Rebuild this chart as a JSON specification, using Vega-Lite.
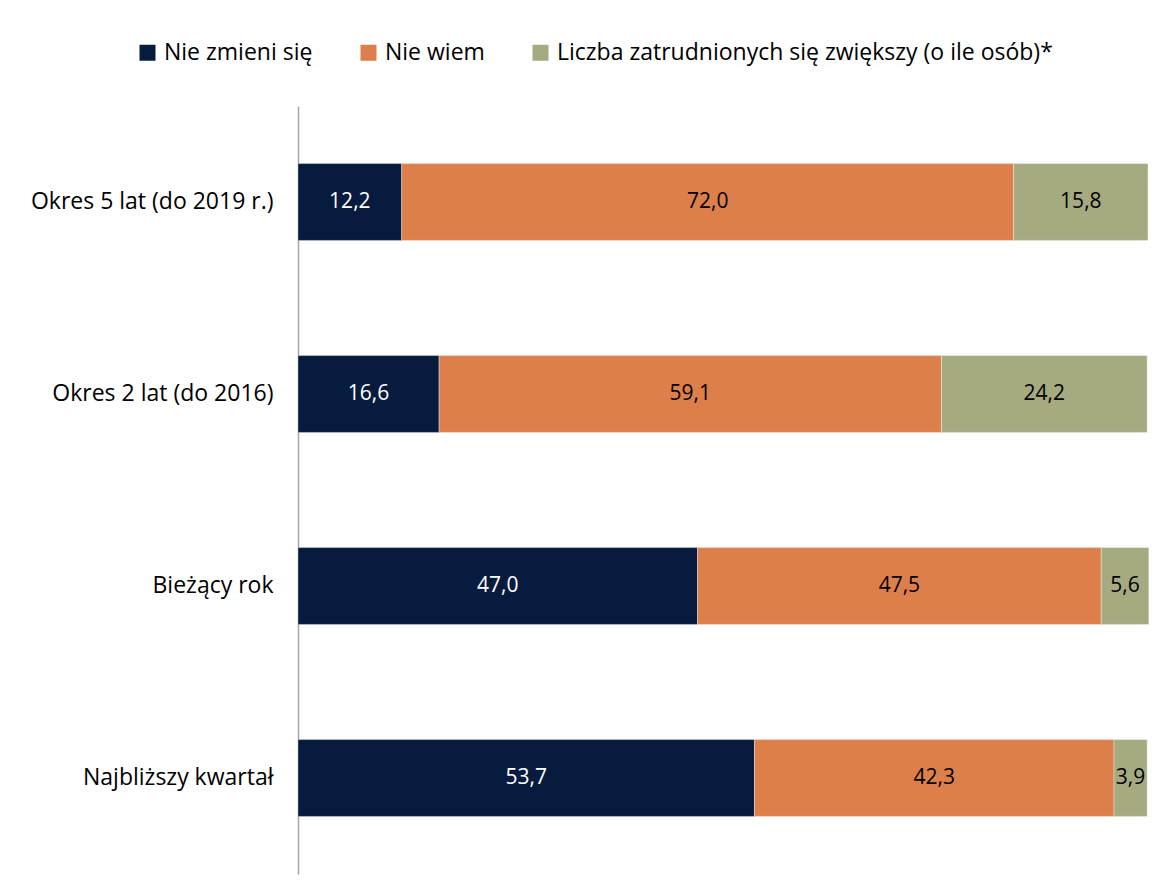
{
  "$schema": "https://vega.github.io/schema/vega-lite/v6.json",
  "autosize": "none",
  "width": 850,
  "height": 768,
  "padding": {"left": 298, "top": 106, "right": 20, "bottom": 22},
  "background": "white",
  "config": {
    "font": "Open Sans",
    "view": {"stroke": null},
    "locale": {"number": {"decimal": ",", "thousands": " ", "grouping": [3], "currency": ["", " zł"]}}
  },
  "data": {"values": [
    {"okres": "Okres 5 lat (do 2019 r.)", "kat": "Nie zmieni się", "o": 1, "v": 12.2},
    {"okres": "Okres 5 lat (do 2019 r.)", "kat": "Nie wiem", "o": 2, "v": 72.0},
    {"okres": "Okres 5 lat (do 2019 r.)", "kat": "Liczba zatrudnionych się zwiększy (o ile osób)*", "o": 3, "v": 15.8},
    {"okres": "Okres 2 lat (do 2016)", "kat": "Nie zmieni się", "o": 1, "v": 16.6},
    {"okres": "Okres 2 lat (do 2016)", "kat": "Nie wiem", "o": 2, "v": 59.1},
    {"okres": "Okres 2 lat (do 2016)", "kat": "Liczba zatrudnionych się zwiększy (o ile osób)*", "o": 3, "v": 24.2},
    {"okres": "Bieżący rok", "kat": "Nie zmieni się", "o": 1, "v": 47.0},
    {"okres": "Bieżący rok", "kat": "Nie wiem", "o": 2, "v": 47.5},
    {"okres": "Bieżący rok", "kat": "Liczba zatrudnionych się zwiększy (o ile osób)*", "o": 3, "v": 5.6},
    {"okres": "Najbliższy kwartał", "kat": "Nie zmieni się", "o": 1, "v": 53.7},
    {"okres": "Najbliższy kwartał", "kat": "Nie wiem", "o": 2, "v": 42.3},
    {"okres": "Najbliższy kwartał", "kat": "Liczba zatrudnionych się zwiększy (o ile osób)*", "o": 3, "v": 3.9}
  ]},
  "transform": [
    {"stack": "v", "groupby": ["okres"], "sort": [{"field": "o", "order": "ascending"}], "as": ["v0", "v1"]},
    {"calculate": "(datum.v0 + datum.v1) / 2", "as": "mid"}
  ],
  "encoding": {
    "y": {
      "field": "okres", "type": "nominal",
      "sort": ["Okres 5 lat (do 2019 r.)", "Okres 2 lat (do 2016)", "Bieżący rok", "Najbliższy kwartał"],
      "scale": {"paddingInner": 0.6, "paddingOuter": 0.3},
      "axis": {"title": null, "ticks": false, "domainColor": "#a6a6a6", "domainWidth": 1.5, "labelFontSize": 23, "labelColor": "#000000", "labelPadding": 25, "labelLimit": 400, "grid": false}
    }
  },
  "layer": [
    {
      "mark": {"type": "bar", "stroke": "#ffffff", "strokeWidth": 0.6, "strokeOpacity": 0.6},
      "encoding": {
        "x": {"field": "v0", "type": "quantitative", "scale": {"domain": [0, 100], "nice": false, "zero": true}, "axis": null},
        "x2": {"field": "v1"},
        "color": {
          "field": "kat", "type": "nominal",
          "scale": {"domain": ["Nie zmieni się", "Nie wiem", "Liczba zatrudnionych się zwiększy (o ile osób)*"], "range": ["#061b3d", "#dd7f4a", "#a5aa81"]},
          "legend": {"title": null, "orient": "none", "direction": "horizontal", "legendX": -162, "legendY": -65, "symbolType": "square", "symbolSize": 256, "symbolStrokeWidth": 0, "labelFontSize": 23, "labelColor": "#000000", "columnPadding": 44, "labelOffset": 5, "labelLimit": 700}
        }
      }
    },
    {
      "mark": {"type": "text", "fontSize": 21, "baseline": "middle", "align": "center"},
      "encoding": {
        "x": {"field": "mid", "type": "quantitative"},
        "text": {"field": "v", "type": "quantitative", "format": ".1f"},
        "color": {"condition": {"test": "datum.o === 1", "value": "#ffffff"}, "value": "#000000"}
      }
    }
  ]
}
